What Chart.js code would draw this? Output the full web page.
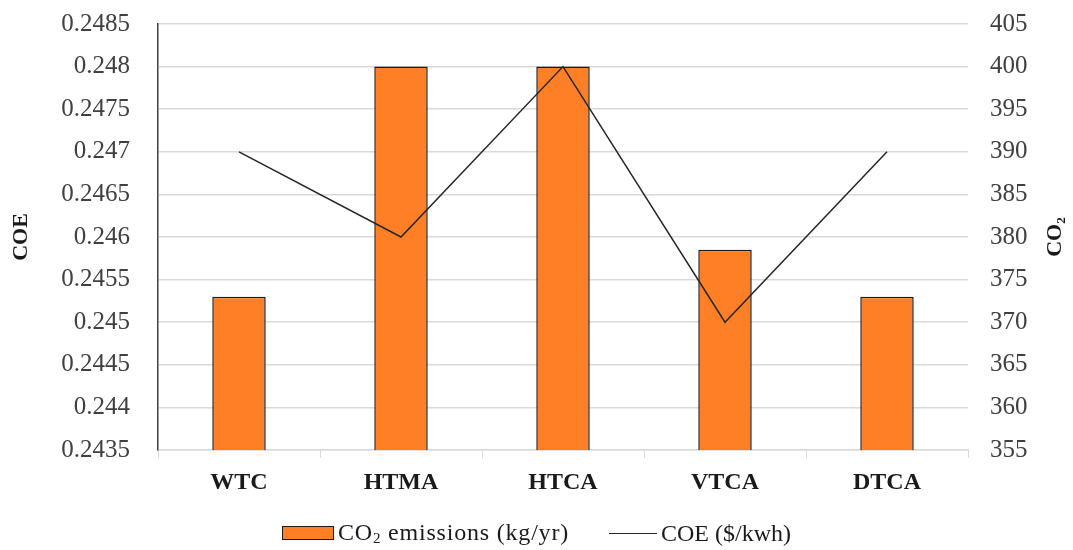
<!DOCTYPE html>
<html>
<head>
<meta charset="utf-8">
<script src="https://cdn.jsdelivr.net/npm/chart.js@4.4.1/dist/chart.umd.min.js"></script>
<style>
  html, body { margin: 0; padding: 0; background: #fff; }
  #wrap { position: relative; width: 1073px; height: 550px; }
  #legend {
    position: absolute; left: 0; top: 517px; width: 1073px; height: 32px;
    display: flex; justify-content: center; align-items: center;
    font-family: 'Liberation Serif', 'Times New Roman', serif; font-size: 24px; color: #1a1a1a;
  }
  #legend .item { display: flex; align-items: center; margin: 0 20px; }
  #legend .item:first-child .text { letter-spacing: 0.8px; }
  #legend .swatch { margin-right: 4px; }
  #legend sub { font-size: 15px; vertical-align: -3px; }
</style>
</head>
<body>
<div id="wrap"><canvas id="combo"></canvas><div id="legend"></div></div>
<script>
var categories = ["WTC", "HTMA", "HTCA", "VTCA", "DTCA"];
var co2Values = [373, 400, 400, 378.5, 373];
var coeValues = [0.247, 0.246, 0.248, 0.245, 0.247];
var coeTicks = [0.2435, 0.244, 0.2445, 0.245, 0.2455, 0.246, 0.2465, 0.247, 0.2475, 0.248, 0.2485];
var co2Ticks = [355, 360, 365, 370, 375, 380, 385, 390, 395, 400, 405];
var seriesNames = ['CO<sub>2</sub> emissions (kg/yr)', 'COE ($/kwh)'];

var textColor = '#404040';
var serif = "'Liberation Serif', 'Times New Roman', serif";

// right axis title reads bottom-to-top like the left one
var rightTitle = {
  id: 'rightTitle',
  afterDraw: function(chart) {
    var ctx = chart.ctx;
    var area = chart.chartArea;
    ctx.save();
    ctx.translate(1055, (area.top + area.bottom) / 2);
    ctx.rotate(-Math.PI / 2);
    ctx.fillStyle = '#1a1a1a';
    ctx.textAlign = 'center';
    ctx.textBaseline = 'middle';
    ctx.font = 'bold 22px ' + serif;
    ctx.fillText('CO\u2082', 0, 0);
    ctx.restore();
  }
};

var chart = new Chart(document.getElementById('combo'), {
  type: 'bar',
  data: {
    labels: categories,
    datasets: [{
      type: 'bar',
      label: 'CO\u2082 emissions (kg/yr)',
      data: co2Values,
      yAxisID: 'y1',
      backgroundColor: '#fe7f26',
      borderColor: '#1a1a1a',
      borderWidth: 1.5,
      borderSkipped: 'bottom',
      barPercentage: 0.33,
      categoryPercentage: 1,
      order: 2
    }, {
      type: 'line',
      label: 'COE ($/kwh)',
      data: coeValues,
      yAxisID: 'y',
      borderColor: '#262626',
      backgroundColor: '#262626',
      borderWidth: 1.5,
      pointRadius: 0,
      tension: 0,
      order: 1
    }]
  },
  options: {
    responsive: true,
    maintainAspectRatio: false,
    animation: false,
    layout: { padding: { top: 24, right: 8, left: 8, bottom: 50 } },
    plugins: {
      tooltip: { enabled: false },
      legend: { display: false }
    },
    scales: {
      x: {
        offset: true,
        afterFit: function(axis) { axis.height = 50; },
        grid: {
          offset: true,
          drawOnChartArea: false,
          drawTicks: true,
          tickLength: 8,
          color: '#d9d9d9'
        },
        border: { color: '#d9d9d9', width: 1.5 },
        ticks: {
          color: '#1a1a1a',
          font: { family: serif, size: 24, weight: 'bold' },
          padding: 10
        }
      },
      y: {
        position: 'left',
        min: 0.2435,
        max: 0.2485,
        afterBuildTicks: function(axis) {
          axis.ticks = coeTicks.map(function(v) { return { value: v }; });
        },
        afterFit: function(axis) { axis.width = 150; axis.paddingTop = 0; axis.paddingBottom = 0; },
        grid: { color: '#d9d9d9', lineWidth: 1.5, drawTicks: false },
        border: { color: '#404040', width: 1.5 },
        ticks: {
          color: textColor,
          padding: 28,
          font: { family: serif, size: 25 },
          callback: function(v) { return String(+v.toFixed(4)); }
        },
        title: {
          display: true,
          text: 'COE',
          color: '#1a1a1a',
          font: { family: serif, size: 22, weight: 'bold' },
          padding: 0
        }
      },
      y1: {
        position: 'right',
        min: 355,
        max: 405,
        afterBuildTicks: function(axis) {
          axis.ticks = co2Ticks.map(function(v) { return { value: v }; });
        },
        afterFit: function(axis) { axis.width = 97; axis.paddingTop = 0; axis.paddingBottom = 0; },
        grid: { display: false, drawTicks: false },
        border: { display: false },
        ticks: {
          color: textColor,
          padding: 22,
          font: { family: serif, size: 25 }
        }
      }
    }
  },
  plugins: [rightTitle]
});

// legend built from the datasets
var legend = document.getElementById('legend');
chart.data.datasets.forEach(function(ds, i) {
  var item = document.createElement('div');
  item.className = 'item';
  var sw = document.createElement('span');
  sw.className = 'swatch';
  if (ds.type === 'bar') {
    sw.style.cssText = 'display:inline-block;width:50px;height:12px;background:' + ds.backgroundColor +
      ';border:1.5px solid ' + ds.borderColor + ';';
  } else {
    sw.style.cssText = 'display:inline-block;width:48px;height:0;border-top:' + ds.borderWidth +
      'px solid ' + ds.borderColor + ';';
  }
  var label = document.createElement('span');
  label.className = 'text';
  label.innerHTML = seriesNames[i];
  item.appendChild(sw);
  item.appendChild(label);
  legend.appendChild(item);
});
</script>
</body>
</html>
